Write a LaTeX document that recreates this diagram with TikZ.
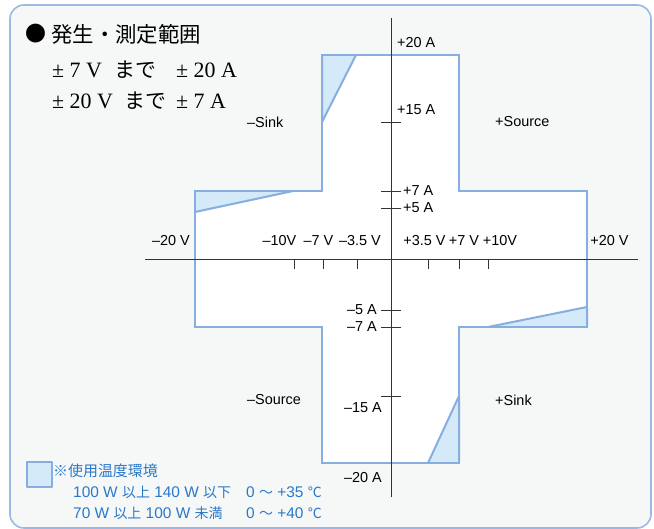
\documentclass[tikz,border=0pt]{standalone}
\usepackage{fontspec}
\setmainfont{Liberation Serif}
\setsansfont{Liberation Sans}
\newfontfamily\jp{Noto Sans CJK JP}
\usetikzlibrary{positioning}
\definecolor{framec}{HTML}{9DB8E3}
\definecolor{bgc}{HTML}{F6F8F8}
\definecolor{areac}{HTML}{86AEE0}
\definecolor{hotc}{HTML}{D5EAF8}
\definecolor{notec}{HTML}{2A78C8}
\definecolor{axisc}{HTML}{333333}
\newcommand{\kj}[1]{{\jp\fontsize{14}{16}\selectfont #1}}

\tikzset{
	frame/.style={draw=framec, fill=bgc, line width=1.6pt, rounded corners=14pt},
	area/.style={draw=areac, line width=2pt, line join=miter},
	hot/.style={draw=areac, fill=hotc, line width=2pt, line join=round},
	axis/.style={draw=axisc, line width=0.9pt},
	tick/.style={draw=axisc, line width=0.9pt},
	lbl/.style={inner sep=0pt, font=\sffamily\fontsize{14.5}{17}\selectfont},
	note/.style={inner sep=0pt, anchor=west, text=notec, font=\sffamily\fontsize{15.5}{17}\selectfont},
	head/.style={inner sep=0pt, anchor=west, font=\fontsize{22}{24}\selectfont}
}

\begin{document}
\begin{tikzpicture}[x=1bp, y=-1bp]
	\useasboundingbox (0,0) rectangle (654,529);
	\path[frame] (10,5) rectangle (651,528);
	
	% operating area
	\path[area, fill=white] (322,55) -- (459,55) -- (459,191) -- (587,191) -- (587,327) -- (459,327)
		-- (459,463) -- (322,463) -- (322,327) -- (195,327) -- (195,191) -- (322,191) -- cycle;
	\path[hot] (322,55) -- (356,55) -- (322,122) -- cycle;
	\path[hot] (195,191) -- (293,191) -- (195,212) -- cycle;
	\path[hot] (587,327) -- (488,327) -- (587,307) -- cycle;
	\path[hot] (459,463) -- (428,463) -- (459,396) -- cycle;
	
	% axes
	\coordinate (xl) at (145,259);
	\coordinate (xr) at (638,259);
	\coordinate (yt) at (391,18);
	\coordinate (yb) at (391,497);
	\draw[axis] (xl) -- (xr);
	\draw[axis] (yt) -- (yb);
	\foreach \x in {294,323,357,428,459,488}
		\draw[tick] (\x,259) -- (\x,269);
	\foreach \y in {122,191,208,310,327,396}
		\draw[tick] (381,\y) -- (401,\y);
	
	% voltage labels
	\node[lbl] (vm20) at (171,241) {--20 V};
	\node[lbl] (vm10) at (279.5,241) {--10V};
	\node[lbl] (vm7) at (318.5,241) {--7 V};
	\node[lbl] (vm35) at (360,241) {--3.5 V};
	\node[lbl] (vp35) at (424.5,241) {+3.5 V};
	\node[lbl] (vp7) at (464,241) {+7 V};
	\node[lbl] (vp10) at (500,241) {+10V};
	\node[lbl] (vp20) at (609.5,241) {+20 V};
	
	% current labels
	\node[lbl, anchor=west] (ap20) at (397,43) {+20 A};
	\node[lbl, anchor=west] (ap15) at (397,110) {+15 A};
	\node[lbl, anchor=west] (ap7) at (403,191) {+7 A};
	\node[lbl, anchor=west] (ap5) at (403,208) {+5 A};
	\node[lbl, anchor=east] (am5) at (377,310) {--5 A};
	\node[lbl, anchor=east] (am7) at (377,327) {--7 A};
	\node[lbl, anchor=east] (am15) at (382,408) {--15 A};
	\node[lbl, anchor=east] (am20) at (382,478) {--20 A};
	
	% quadrants
	\node[lbl, anchor=west] (q2) at (247,122) {--Sink};
	\node[lbl, anchor=west] (q1) at (495,122) {+Source};
	\node[lbl, anchor=west] (q3) at (247,400) {--Source};
	\node[lbl, anchor=west] (q4) at (495,400) {+Sink};
	
	% heading
	\node[head] (dot) at (25,34) {\jp\fontsize{21}{24}\selectfont ●};
	\node[head] (title) at (51,34) {\jp\fontsize{21.5}{24}\selectfont 発生・測定範囲};
	\node[head] (r1v) at (52,70) {± 7 V};
	\node[head] (r1m) at (114,70) {\jp\fontsize{21}{24}\selectfont まで};
	\node[head] (r1a) at (176,70) {± 20 A};
	\node[head] (r2v) at (52,101) {± 20 V};
	\node[head] (r2m) at (124,101) {\jp\fontsize{21}{24}\selectfont まで};
	\node[head] (r2a) at (176,101) {± 7 A};
	
	% legend
	\path[hot] (27,462) rectangle (52,487);
	\node[note, font=\jp\fontsize{15}{17}\selectfont] (n0) at (53,471) {※使用温度環境};
	\node[note] (n1) at (73,492) {100 W \kj{以上} 140 W \kj{以下}};
	\node[note] (t1) at (246,492) {0 \kj{〜} +35 \kj{℃}};
	\node[note] (n2) at (73,513) {70 W \kj{以上} 100 W \kj{未満}};
	\node[note] (t2) at (246,513) {0 \kj{〜} +40 \kj{℃}};
\end{tikzpicture}
\end{document}
